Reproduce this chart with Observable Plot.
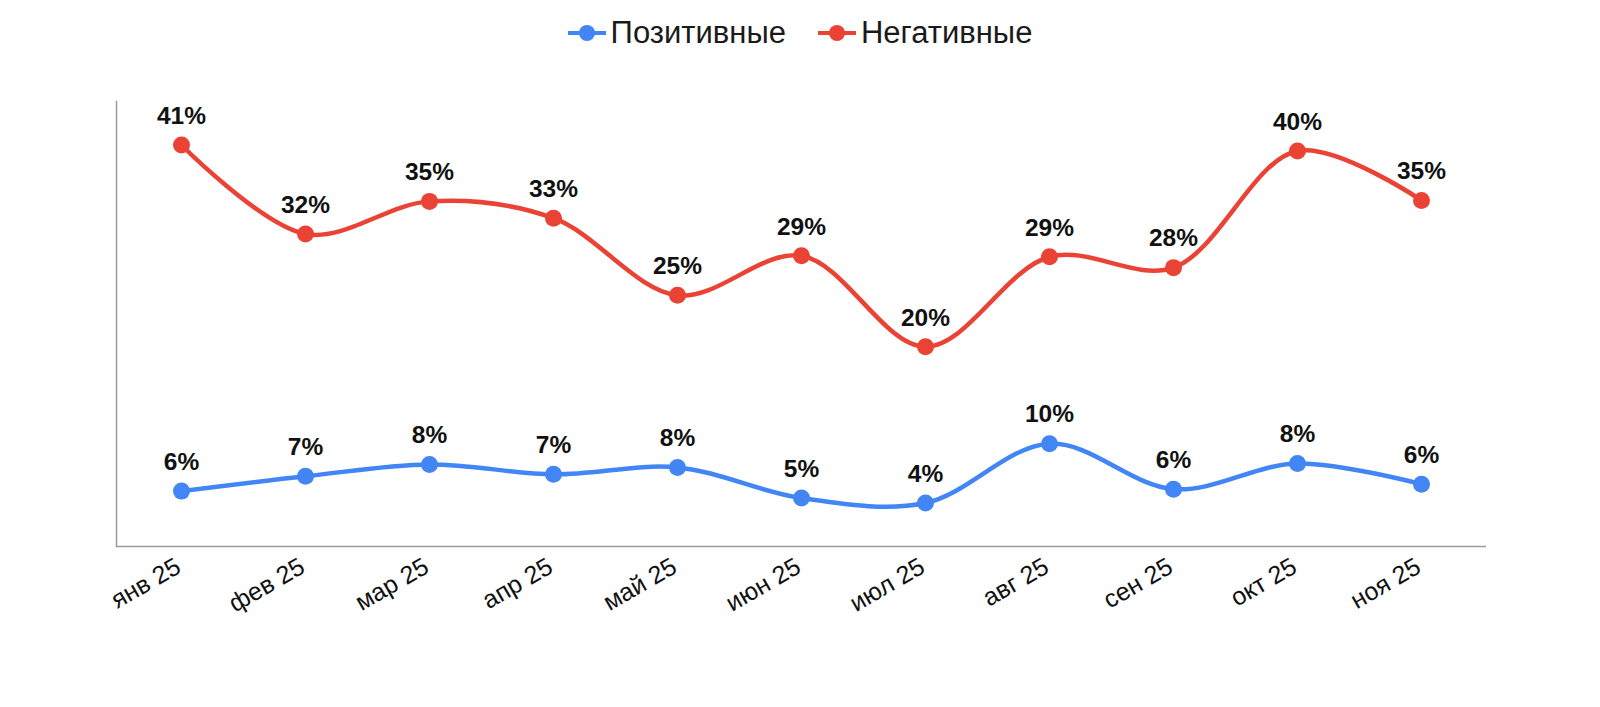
<!DOCTYPE html>
<html>
<head>
<meta charset="utf-8">
<script src="https://cdn.jsdelivr.net/npm/d3@7"></script>
<script src="https://cdn.jsdelivr.net/npm/@observablehq/plot@0.6"></script>
<style>
  html, body { margin: 0; padding: 0; background: #fff; }
  body { width: 1600px; height: 707px; overflow: hidden; font-family: "Liberation Sans", Arial, sans-serif; }
  #legend { height: 66px; display: flex; justify-content: center; align-items: center; gap: 32px; font-size: 31px; color: #1a1a1a; }
  .item { display: flex; align-items: center; gap: 5px; }
  .item svg { display: block; }
  #chart svg { display: block; }
</style>
</head>
<body>
<div id="legend"></div>
<div id="chart"></div>
<script>
const months = ["янв 25", "фев 25", "мар 25", "апр 25", "май 25", "июн 25", "июл 25", "авг 25", "сен 25", "окт 25", "ноя 25"];
const positive = [5.6, 7.1, 8.3, 7.3, 8.0, 4.9, 4.4, 10.4, 5.8, 8.4, 6.3];
const negative = [40.6, 31.6, 34.9, 33.2, 25.4, 29.4, 20.2, 29.3, 28.2, 40.0, 35.0];
const seriesNames = ["Позитивные", "Негативные"];
const seriesColors = ["#4285F4", "#EA4335"];

const data = [];
months.forEach((m, i) => data.push({month: m, value: positive[i], series: seriesNames[0]}));
months.forEach((m, i) => data.push({month: m, value: negative[i], series: seriesNames[1]}));

// legend
const legend = document.getElementById("legend");
seriesNames.forEach((name, i) => {
  const item = document.createElement("div");
  item.className = "item";
  item.innerHTML = `<svg width="38" height="20"><line x1="0" y1="10" x2="38" y2="10" stroke="${seriesColors[i]}" stroke-width="4"/><circle cx="19" cy="10" r="8" fill="${seriesColors[i]}"/></svg><span>${name}</span>`;
  legend.appendChild(item);
});

const chart = Plot.plot({
  width: 1600,
  height: 641,
  marginLeft: 116,
  marginRight: 114,
  marginTop: 35,
  marginBottom: 161,
  style: {fontFamily: "'Liberation Sans', Arial, sans-serif", background: "white", color: "#111"},
  x: {type: "point", domain: months, padding: 0.5, label: null},
  y: {domain: [0, 45], axis: null},
  color: {domain: seriesNames, range: seriesColors},
  marks: [
    Plot.ruleY([0], {stroke: "#9a9a9a", strokeWidth: 1.5}),
    Plot.frame({anchor: "left", stroke: "#9a9a9a", strokeWidth: 1.5}),
    Plot.axisX({tickSize: 0, tickRotate: -30, tickPadding: 18, dx: -3, fontSize: 25, label: null}),
    Plot.line(data, {x: "month", y: "value", z: "series", stroke: "series", strokeWidth: 4.5, curve: "catmull-rom"}),
    Plot.dot(data, {x: "month", y: "value", fill: "series", r: 8.5}),
    Plot.text(data, {x: "month", y: "value", text: d => Math.round(d.value) + "%", dy: -29, fontWeight: "bold", fontSize: 24.5, fill: "#111"})
  ]
});
document.getElementById("chart").appendChild(chart);
</script>
</body>
</html>
